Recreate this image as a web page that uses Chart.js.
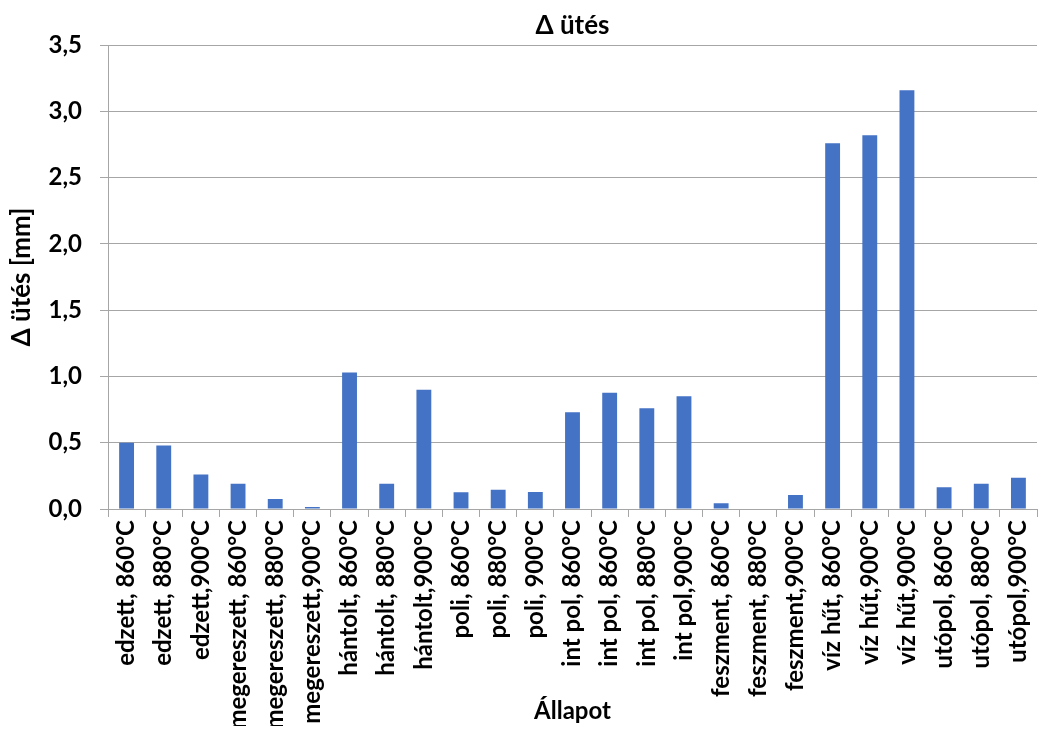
<!DOCTYPE html>
<html>
<head>
<meta charset="utf-8">
<script src="https://cdn.jsdelivr.net/npm/chart.js@4.4.1/dist/chart.umd.min.js"></script>
<style>
  html, body { margin: 0; padding: 0; background: #fff; }
  #wrap { width: 1041px; height: 751px; }
</style>
</head>
<body>
<div id="wrap"><canvas id="chart" width="1041" height="751"></canvas></div>
<script>
const categories = [
  "edzett, 860°C", "edzett, 880°C", "edzett,900°C",
  "megereszett, 860°C", "megereszett, 880°C", "megereszett,900°C",
  "hántolt, 860°C", "hántolt, 880°C", "hántolt,900°C",
  "poli, 860°C", "poli, 880°C", "poli, 900°C",
  "int pol, 860°C", "int pol, 860°C", "int pol, 880°C", "int pol,900°C",
  "feszment, 860°C", "feszment, 880°C", "feszment,900°C",
  "víz hűt, 860°C", "víz hűt,900°C", "víz hűt,900°C",
  "utópol, 860°C", "utópol, 880°C", "utópol,900°C"
];
const deltaUtes = [
  0.50, 0.48, 0.26,
  0.19, 0.075, 0.015,
  1.03, 0.19, 0.90,
  0.126, 0.146, 0.128,
  0.73, 0.877, 0.76, 0.85,
  0.043, 0.003, 0.105,
  2.76, 2.82, 3.16,
  0.164, 0.19, 0.236
];
const yMin = 0, yMax = 3.5, yStep = 0.5;

const FONT = "Lato, 'Open Sans', sans-serif";

new Chart(document.getElementById("chart").getContext("2d"), {
  type: "bar",
  data: {
    labels: categories,
    datasets: [{
      label: "Δ ütés",
      data: deltaUtes,
      backgroundColor: "#4472C4",
      barPercentage: 0.4,
      categoryPercentage: 1.0
    }]
  },
  options: {
    responsive: false,
    animation: false,
    layout: { padding: { left: 6, right: 4, top: 0, bottom: 25 } },
    plugins: {
      legend: { display: false },
      tooltip: { enabled: false },
      title: {
        display: true,
        fullSize: false,
        text: "Δ ütés",
        color: "#000",
        font: { family: FONT, size: 26, weight: "bold" },
        padding: { top: 10, bottom: 4 }
      }
    },
    scales: {
      x: {
        afterFit: s => { s.height = 217; s.paddingLeft = 0; s.paddingRight = 0; },
        grid: { display: true, drawOnChartArea: false, drawTicks: true, tickLength: 8, color: "#a6a6a6", offset: true },
        border: { color: "#a6a6a6" },
        ticks: {
          color: "#000",
          font: { family: FONT, size: 24, weight: "bold" },
          maxRotation: 90, minRotation: 90, autoSkip: false, padding: 3
        },
        title: {
          display: true, text: "Állapot", color: "#000",
          font: { family: FONT, size: 24, weight: "bold" }, padding: { top: 0, bottom: 0 }
        }
      },
      y: {
        min: yMin, max: yMax,
        afterFit: s => { s.width = 102; },
        grid: { color: "#a6a6a6", tickLength: 8 },
        border: { color: "#a6a6a6" },
        ticks: {
          stepSize: yStep, color: "#000", padding: 18,
          font: { family: FONT, size: 24, weight: "bold" },
          callback: v => v.toFixed(1).replace(".", ",")
        },
        title: {
          display: true, text: "Δ ütés [mm]", color: "#000",
          font: { family: FONT, size: 26, weight: "bold" }, padding: { top: 0, bottom: 0 }
        }
      }
    }
  }
});
</script>
</body>
</html>
